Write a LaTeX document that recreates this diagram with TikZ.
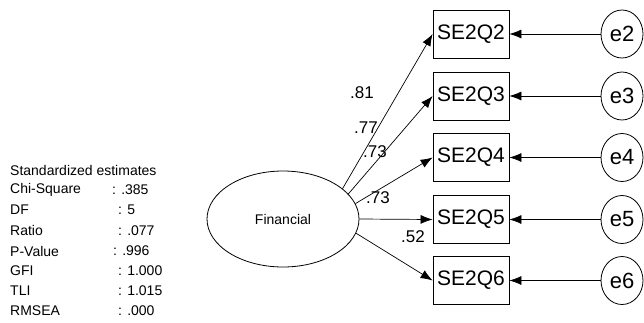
\documentclass[tikz,border=0pt]{standalone}
\usepackage{fontspec}
\setmainfont{Liberation Sans}
\usetikzlibrary{shapes.geometric,arrows.meta}
\tikzset{
  obs/.style={draw, line width=0.8pt, minimum width=76pt, minimum height=48pt, inner sep=0pt,
    font=\fontsize{21}{24}\selectfont},
  latent/.style={draw, line width=0.8pt, ellipse, minimum width=152pt, minimum height=96pt, inner sep=0pt,
    font=\fontsize{14}{16}\selectfont},
  errnode/.style={draw, line width=0.8pt, ellipse, minimum width=42pt, minimum height=48pt, inner sep=0pt,
    font=\fontsize{22}{24}\selectfont},
  path/.style={line width=0.7pt, -{Latex[length=12pt,width=9pt]}},
  coef/.style={font=\fontsize{17}{19}\selectfont, inner sep=0pt},
  stat/.style={anchor=west, font=\fontsize{14}{16}\selectfont, inner sep=0pt},
}
\begin{document}
\begin{tikzpicture}[x=1pt, y=-1pt]
\useasboundingbox (0,0) rectangle (644,322);

% latent factor
\node[latent] (fin) at (283,219) {Financial};

% indicators and their error terms
\foreach \i/\y in {2/34, 3/96, 4/157.5, 5/219.5, 6/280.5} {
  \node[obs] (q\i) at (471,\y) {SE2Q\i};
  \node[errnode] (e\i) at (622,\y) {e\i};
  \draw[path] (e\i.west) -- (q\i.east);
}

% factor loadings
\draw[path] (fin.27.7) -- (q2.west);
\draw[path] (fin.21.8) -- (q3.west);
\draw[path] (fin.12.4) -- (q4.west);
\draw[path] (fin.0) -- (q5.west);
\draw[path] (fin.-11.6) -- (q6.west);

\node[coef] (l2) at (362,93) {.81};
\node[coef] (l3) at (366,128) {.77};
\node[coef] (l4) at (375,152) {.73};
\node[coef] (l5) at (378,198) {.73};
\node[coef] (l6) at (413,237) {.52};

% fit statistics
\node[stat] (hdr) at (10,170) {Standardized estimates};
\node[stat] (s1) at (10,190) {Chi-Square};
\node[stat] (v1) at (112,190) {: .385};
\node[stat] (s2) at (10,210) {DF};
\node[stat] (v2) at (118,210) {: 5};
\node[stat] (s3) at (10,230.5) {Ratio};
\node[stat] (v3) at (118,230.5) {: .077};
\node[stat] (s4) at (10,251) {P-Value};
\node[stat] (v4) at (113,251) {: .996};
\node[stat] (s5) at (10,271) {GFI};
\node[stat] (v5) at (118,271) {: 1.000};
\node[stat] (s6) at (10,291) {TLI};
\node[stat] (v6) at (118,291) {: 1.015};
\node[stat] (s7) at (10,311) {RMSEA};
\node[stat] (v7) at (118,311) {: .000};
\end{tikzpicture}
\end{document}
